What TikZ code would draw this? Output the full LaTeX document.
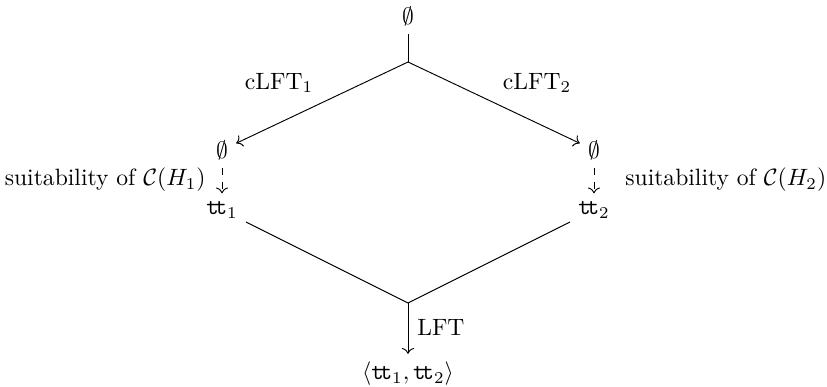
\documentclass[tikz,border=0pt]{standalone}
\usetikzlibrary{arrows.meta}
\newcommand{\tru}{\mathtt{t\!t}}
\begin{document}
\begin{tikzpicture}[x=0.4237pt,y=-0.4237pt,
  lbl/.style={inner sep=0.333em},
  conn/.style={draw},
  arr/.style={draw,->},
  darr/.style={draw,->,dashed}]
\useasboundingbox (0,0) rectangle (827,387);
% nodes
\node[lbl] (top) at (408,16) {$\emptyset$};
\coordinate (j1) at (408,62);
\node[lbl] (l0) at (222,150) {$\emptyset$};
\node[lbl] (r0) at (594,150) {$\emptyset$};
\node[lbl] (t1) at (222,210) {$\tru_1$};
\node[lbl] (t2) at (594,210) {$\tru_2$};
\coordinate (j2) at (408,303);
\node[lbl] (bot) at (408,374) {$\langle \tru_1, \tru_2\rangle$};
% labels
\node[lbl] (c1) at (279,83) {cLFT$_1$};
\node[lbl] (c2) at (537,83) {cLFT$_2$};
\node[lbl,anchor=east] (s1) at (214,180) {suitability of $\mathcal{C}(H_1)$};
\node[lbl,anchor=west] (s2) at (617,180) {suitability of $\mathcal{C}(H_2)$};
\node[lbl,anchor=west] (lft) at (409,327) {LFT};
% connectors
\draw[conn] (top) -- (j1);
\draw[arr] (j1) -- (l0);
\draw[arr] (j1) -- (r0);
\draw[darr] (l0) -- (t1);
\draw[darr] (r0) -- (t2);
\draw[conn] (t1) -- (j2);
\draw[conn] (t2) -- (j2);
\draw[arr] (j2) -- (bot);
\end{tikzpicture}
\end{document}
